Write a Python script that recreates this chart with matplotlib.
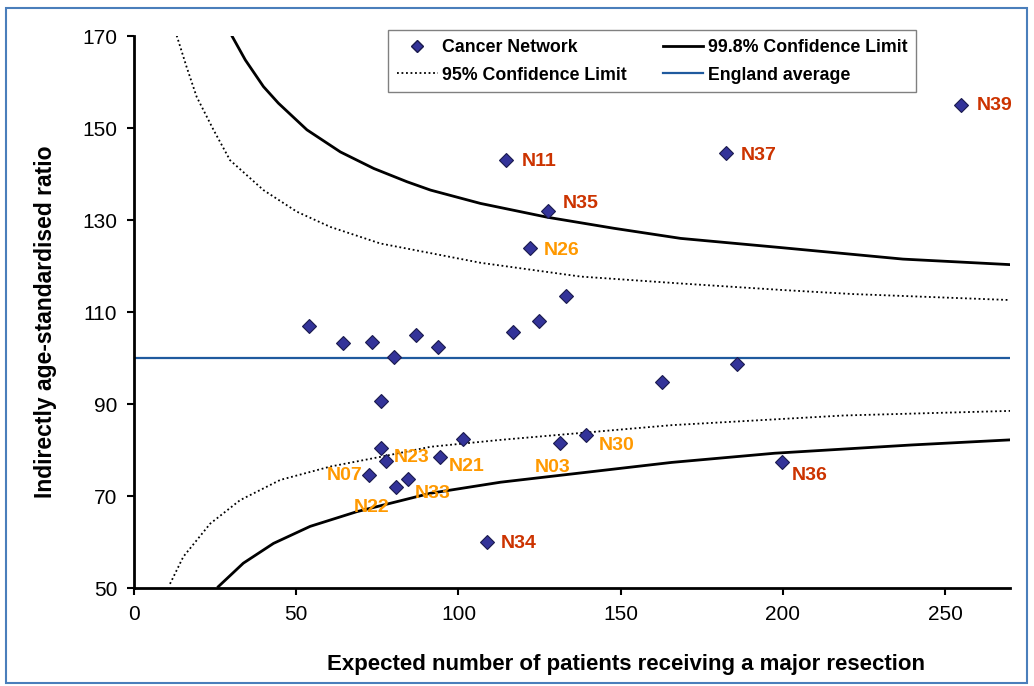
import matplotlib
matplotlib.use("Agg")
import matplotlib.pyplot as plt
from matplotlib.lines import Line2D
from matplotlib.patches import Rectangle

plt.rcParams["font.family"] = ["Liberation Sans", "DejaVu Sans"]

# Cancer networks: expected major resections vs indirectly standardised ratio
expected = [255.0, 182.6, 114.8, 127.6, 122.0, 133.0, 124.9, 116.8, 54.0,
            64.3, 73.5, 80.0, 86.9, 93.7, 76.0, 162.6, 186.0, 139.4, 131.2,
            101.3, 94.4, 76.0, 77.8, 72.5, 80.8, 84.3, 108.8, 199.8]
ratio = [155.0, 144.5, 143.0, 132.0, 123.9, 113.5, 108.1, 105.6, 107.0,
         103.2, 103.5, 100.2, 104.9, 102.3, 90.7, 94.7, 98.6, 83.2, 81.5,
         82.3, 78.5, 80.4, 77.6, 74.6, 72.0, 73.8, 60.0, 77.4]
names = ["N39", "N37", "N11", "N35", "N26", "", "", "", "",
         "", "", "", "", "", "", "", "", "N30", "N03",
         "", "N21", "", "N23", "N07", "N22", "N33", "N34", "N36"]

# control limits
up998_x = [28.0, 30.2, 34.3, 39.9, 44.5, 53.3, 63.6, 73.9, 84.2, 91.4, 106.8,
           127.4, 147.9, 168.5, 199.4, 237.0, 270.0]
up998_y = [173.0, 170.0, 164.8, 159.0, 155.4, 149.6, 144.8, 141.2, 138.3, 136.5,
           133.6, 130.6, 128.2, 126.0, 124.0, 121.5, 120.3]
up95_x = [12.5, 13.2, 16.2, 19.3, 24.5, 29.6, 39.9, 50.2, 60.5, 75.9, 91.4,
          106.8, 137.7, 168.5, 199.4, 221.6, 270.0]
up95_y = [172.0, 170.0, 163.3, 156.8, 149.6, 143.0, 136.5, 131.8, 128.5, 124.9,
          122.8, 120.7, 117.7, 116.2, 114.8, 113.9, 112.6]
lo998_x = [26.0, 33.7, 43.0, 54.3, 68.7, 91.4, 113.0, 165.7, 197.5, 239.8, 270.0]
lo998_y = [50.3, 55.4, 59.7, 63.4, 66.6, 70.6, 73.0, 77.3, 79.3, 81.1, 82.2]
lo95_x = [11.1, 15.2, 23.5, 32.7, 45.1, 60.5, 75.9, 91.4, 113.0, 165.7,
          218.7, 270.0]
lo95_y = [50.9, 56.8, 64.0, 69.1, 73.5, 76.4, 78.5, 80.7, 82.2, 85.4, 87.5, 88.5]
england_avg = 100

RED = "#CC3300"
ORANGE = "#FF9900"
outliers_998 = {"N39", "N37", "N11", "N35", "N34", "N36"}

# label offsets in pixels (dx, dy, ha)
offsets = {
    "N39": (15, 0, "left"), "N37": (14, -2, "left"), "N11": (15, -1, "left"),
    "N35": (15, 7, "left"), "N26": (14, -2, "left"), "N23": (7, 4, "left"),
    "N07": (-7, -1, "right"), "N22": (-25, -21, "center"),
    "N33": (7, -15, "left"), "N21": (8, -10, "left"), "N03": (-25, -24, "left"),
    "N30": (12, -10, "left"), "N36": (10, -14, "left"), "N34": (14, -1, "left"),
}

fig = plt.figure(figsize=(10.34, 6.86), dpi=100)
ax = fig.add_axes([134 / 1034, 1 - 588 / 686, 876 / 1034, 552 / 686])

ax.plot(up998_x, up998_y, color="black", lw=2.0, zorder=2)
ax.plot(lo998_x, lo998_y, color="black", lw=2.0, zorder=2)
dots = (0, (1, 1.5))
ax.plot(up95_x, up95_y, color="black", lw=1.3, ls=dots, zorder=2)
ax.plot(lo95_x, lo95_y, color="black", lw=1.3, ls=dots, zorder=2)
ax.axhline(england_avg, color="#1F5A9E", lw=1.6, zorder=2)

ax.plot(expected, ratio, ls="none", marker="D", ms=7.2, mfc="#333399",
        mec="#1A1A4D", mew=0.8, zorder=3)

for x, y, n in zip(expected, ratio, names):
    if not n:
        continue
    dx, dy, ha = offsets[n]
    ax.annotate(n, xy=(x, y), xytext=(dx, dy), textcoords="offset pixels",
                ha=ha, va="center", fontsize=14, fontweight="bold",
                color=RED if n in outliers_998 else ORANGE, zorder=4)

ax.set_xlim(0, 270)
ax.set_ylim(50, 170)
ax.set_xticks(range(0, 251, 50))
ax.set_yticks(range(50, 171, 20))
ax.spines["top"].set_visible(False)
ax.spines["right"].set_visible(False)
for s in ("left", "bottom"):
    ax.spines[s].set_linewidth(2)
ax.tick_params(direction="out", length=5, width=1.5, labelsize=15, pad=7)

ax.set_xlabel("Expected number of patients receiving a major resection",
              fontsize=16, fontweight="bold")
ax.set_ylabel("Indirectly age-standardised ratio", fontsize=16.5,
              fontweight="bold")
ax.xaxis.set_label_coords(0.5616, -0.12)
ax.yaxis.set_label_coords(-0.088, 0.482)

handles = [
    Line2D([], [], ls="none", marker="D", ms=6, mfc="#333399", mec="#1A1A4D"),
    Line2D([], [], color="black", lw=1.3, ls=dots),
    Line2D([], [], color="black", lw=2.0),
    Line2D([], [], color="#1F5A9E", lw=1.6),
]
labels = ["Cancer Network", "95% Confidence Limit", "99.8% Confidence Limit",
          "England average"]
leg = ax.legend(handles, labels, ncol=2, loc="upper left",
                bbox_to_anchor=(388 / 1034, 1 - 30 / 686),
                bbox_transform=fig.transFigure, borderaxespad=0,
                prop={"size": 12.8, "weight": "bold"}, fancybox=False,
                framealpha=1, edgecolor="#808080", handlelength=2.3,
                handletextpad=0.25, columnspacing=2.0, borderpad=0.5,
                labelspacing=0.6)
leg.get_frame().set_linewidth(1.0)
leg.set_zorder(5)

# outer chart frame
fig.patches.append(Rectangle((6 / 1034, 3 / 686), 1021 / 1034, 675 / 686,
                             transform=fig.transFigure, fill=False,
                             edgecolor="#4A7EBB", lw=1.5))

fig.savefig("out.png", dpi=100)
